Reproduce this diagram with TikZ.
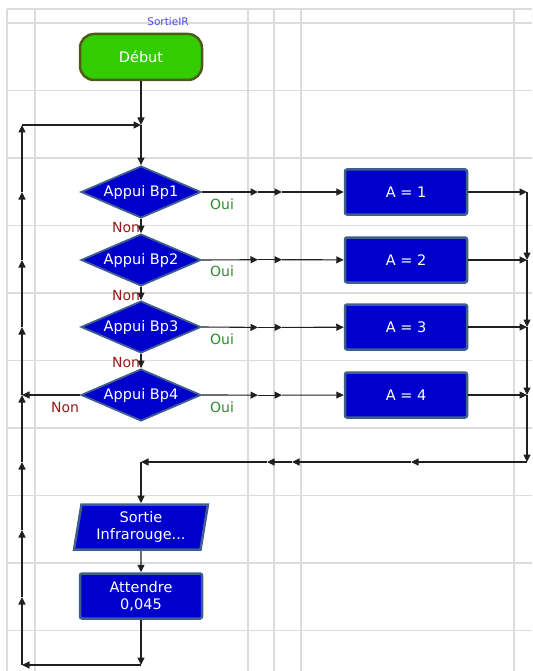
\documentclass[tikz,border=0pt]{standalone}
\usepackage{fontspec}
\setmainfont{DejaVu Sans}
\usepackage{tikz}
\usetikzlibrary{shapes.geometric,arrows.meta}
\definecolor{flowblue}{HTML}{0000CC}
\definecolor{flowedge}{HTML}{3F5F8F}
\definecolor{startgreen}{HTML}{33CC00}
\definecolor{startedge}{HTML}{4E5A1C}
\definecolor{gridgray}{HTML}{DCDCDC}
\definecolor{ouigreen}{HTML}{2F8A2F}
\definecolor{nonred}{HTML}{9A1A1A}
\definecolor{labelblue}{HTML}{4A4AF0}
\definecolor{wire}{HTML}{202020}

\begin{document}
\begin{tikzpicture}[x=1pt, y=-1pt,
    gridline/.style={gridgray, line width=1.3pt},
    startbox/.style={rectangle, rounded corners=14pt, minimum width=122pt, minimum height=46pt,
        fill=startgreen, draw=startedge, line width=2.5pt, text=white, font=\fontsize{14.5}{17}\selectfont},
    calcbox/.style={rectangle, rounded corners=2pt, minimum width=122pt, minimum height=45pt,
        fill=flowblue, draw=flowedge, line width=2.5pt, text=white, align=center,
        font=\fontsize{14.5}{17}\selectfont},
    decision/.style={diamond, aspect=2.3, inner sep=1pt, minimum width=120pt, minimum height=52pt,
        fill=flowblue, draw=flowedge, line width=1.8pt, text=white, font=\fontsize{14.5}{17}\selectfont},
    outbox/.style={trapezium, trapezium left angle=81, trapezium right angle=99, trapezium stretches=true,
        minimum width=134pt, minimum height=45pt, fill=flowblue, draw=flowedge, line width=2.5pt,
        text=white, align=center, font=\fontsize{14.5}{17}\selectfont},
    oui/.style={text=ouigreen, font=\fontsize{14}{16}\selectfont},
    non/.style={text=nonred, font=\fontsize{14}{16}\selectfont},
    arr/.style={-{Triangle[length=7.5pt,width=7pt]}, wire, line width=1.1pt}
]
\useasboundingbox (0,0) rectangle (532,671);
\foreach \gx in {7,35,248,274,301,514}
    \draw[gridline] (\gx,9) -- (\gx,671);
\foreach \gy in {9,23,90.5,158,225.5,293,360.5,428,495.5,563,630.5}
    \draw[gridline] (7,\gy) -- (532,\gy);

\node[text=labelblue, font=\fontsize{10.5}{12}\selectfont] (titre) at (168,22) {SortieIR};
\node[startbox] (debut) at (141,57) {Début};

\node[decision] (b1) at (141,192) {Appui Bp1};
\node[decision] (b2) at (141,260) {Appui Bp2};
\node[decision] (b3) at (141,327) {Appui Bp3};
\node[decision] (b4) at (141,395) {Appui Bp4};

\node[calcbox] (a1) at (406,192) {A = 1};
\node[calcbox] (a2) at (406,260) {A = 2};
\node[calcbox] (a3) at (406,327) {A = 3};
\node[calcbox] (a4) at (406,395) {A = 4};

\node[outbox] (sortie) at (141,527) {Sortie\\Infrarouge...};
\node[calcbox] (attendre) at (141,596) {Attendre\\0,045};

\coordinate (jtop) at (141,125);
\coordinate (jmid) at (141,462);
\coordinate (jbot) at (141,665);
\foreach \ly [count=\i from 0] in {125,192,260,327,395,462,530,597,665}
    \coordinate (l\i) at (22,\ly);
\foreach \ry [count=\i] in {192,260,327,395,462}
    \coordinate (r\i) at (527,\ry);
\foreach \i in {1,...,4} {
    \coordinate (oa\i) at (258,{192+(\i-1)*67.7});
    \coordinate (ob\i) at (282,{192+(\i-1)*67.7});
}
\coordinate (m1) at (411,462);
\coordinate (m2) at (292,462);
\coordinate (m3) at (267,462);

\draw[arr] (debut) -- (jtop);
\draw[arr] (l0) -- (jtop);
\draw[arr] (jtop) -- (b1);

\foreach \i in {1,...,4} {
    \draw[arr] (b\i.east) -- (oa\i);
    \draw[arr] (oa\i) -- (ob\i);
    \draw[arr] (ob\i) -- (a\i);
    \draw[arr] (a\i) -- (r\i);
    \node[oui] (oui\i) at (222,{204+(\i-1)*67.7}) {Oui};
}
\draw[arr] (b1) -- (b2);
\draw[arr] (b2) -- (b3);
\draw[arr] (b3) -- (b4);
\node[non] (non1) at (126,227) {Non};
\node[non] (non2) at (126,295) {Non};
\node[non] (non3) at (126,362) {Non};
\node[non] (non4) at (65,407) {Non};
\draw[arr] (b4.west) -- (l4);

\draw[arr] (r1) -- (r2);
\draw[arr] (r2) -- (r3);
\draw[arr] (r3) -- (r4);
\draw[arr] (r4) -- (r5);
\draw[arr] (r5) -- (m1);
\draw[arr] (m1) -- (m2);
\draw[arr] (m2) -- (m3);
\draw[arr] (m3) -- (jmid);
\draw[arr] (jmid) -- (sortie);
\draw[arr] (sortie) -- (attendre);
\draw[arr] (attendre) -- (jbot);
\draw[arr] (jbot) -- (l8);

\foreach \i [evaluate=\i as \j using int(\i-1)] in {1,...,8}
    \draw[arr] (l\i) -- (l\j);
\end{tikzpicture}
\end{document}
